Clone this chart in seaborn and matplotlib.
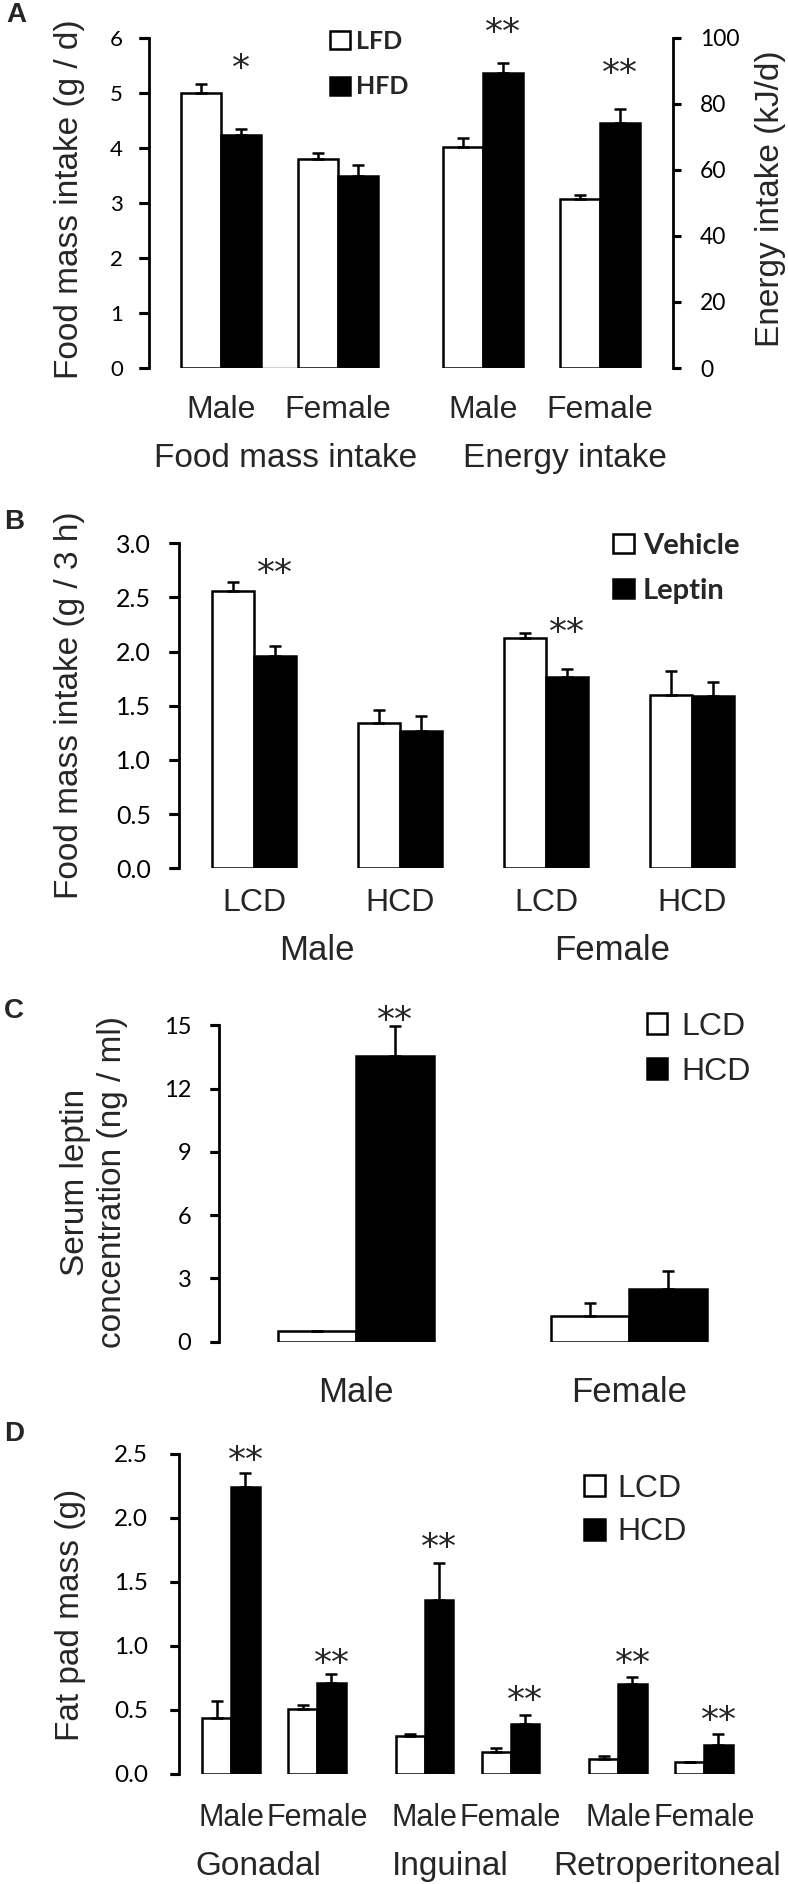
import numpy as np
import pandas as pd
import matplotlib.pyplot as plt
import seaborn as sns
from matplotlib.patches import Patch
from matplotlib.lines import Line2D

# ---- data ----
sexes = ['Male', 'Female']

# A: food mass intake (g/d) and energy intake (kJ/d), LFD vs HFD
food_lfd = [5.00, 3.80]
food_lfd_err = [0.15, 0.10]
food_hfd = [4.24, 3.49]
food_hfd_err = [0.11, 0.19]
energy_lfd = [67.0, 51.1]
energy_lfd_err = [2.7, 1.3]
energy_hfd = [89.4, 74.3]
energy_hfd_err = [2.8, 4.0]

# B: 3 h food intake after vehicle / leptin
b_diets = ['LCD', 'HCD', 'LCD', 'HCD']
vehicle = [2.56, 1.34, 2.13, 1.60]
vehicle_err = [0.08, 0.12, 0.04, 0.22]
leptin = [1.96, 1.27, 1.77, 1.59]
leptin_err = [0.09, 0.14, 0.07, 0.13]

# C: serum leptin (ng/ml)
c_lcd = [0.50, 1.24]
c_lcd_err = [0.0, 0.58]
c_hcd = [13.53, 2.50]
c_hcd_err = [1.42, 0.87]

# D: fat pad mass (g)
depots = ['Gonadal', 'Inguinal', 'Retroperitoneal']
d_sexes = ['Male', 'Female'] * 3
d_lcd = [0.44, 0.51, 0.30, 0.17, 0.12, 0.09]
d_lcd_err = [0.13, 0.03, 0.016, 0.03, 0.018, 0.0]
d_hcd = [2.24, 0.71, 1.36, 0.39, 0.70, 0.23]
d_hcd_err = [0.11, 0.07, 0.29, 0.07, 0.06, 0.085]

# significance marks: (pair index, height of the mark)
stars_a_food = [(0, 5.63, '*')]
stars_a_energy = [(0, 104.8, '**'), (1, 92.3, '**')]
stars_b = [(0, 2.82, '**'), (2, 2.27, '**')]
stars_c = [(0, 15.73, '**')]
stars_d = [(i, h, '**') for i, h in enumerate([2.53, 0.945, 1.85, 0.656, 0.945, 0.50])]

# ---- style ----
sns.set_style('ticks')
plt.rcParams['font.family'] = ['Liberation Sans', 'DejaVu Sans']
plt.rcParams.update({
    'axes.linewidth': 2,
    'axes.edgecolor': 'black',
    'ytick.direction': 'out',
    'ytick.color': 'black',
    'ytick.major.width': 2,
    'xtick.bottom': False,
    'xtick.major.size': 0,
})
NUM = 'Lato'
LW = 1.8

W, H = 788, 1884
fig = plt.figure(figsize=(W / 100, H / 100), dpi=100)


def px_axes(l, t, r, b):
    ax = fig.add_axes([l / W, 1 - b / H, (r - l) / W, (b - t) / H])
    ax.px_width = r - l
    return ax


def px_xlim(ax, l, r, c0, unit):
    ax.set_xlim((l - c0) / unit, (r - c0) / unit)


def ftext(x, y, s, **kw):
    kw.setdefault('ha', 'center')
    kw.setdefault('va', 'baseline')
    return fig.text(x / W, 1 - y / H, s, **kw)


def bar_panel(ax, pos, lo, hi, lo_err, hi_err, labels, width):
    n = len(pos)
    df = pd.DataFrame({'pos': list(pos) * 2,
                       'grp': [labels[0]] * n + [labels[1]] * n,
                       'val': list(lo) + list(hi)})
    sns.barplot(data=df, x='pos', y='val', hue='grp', hue_order=labels,
                palette=['white', 'black'], native_scale=True, width=width,
                edgecolor='black', linewidth=LW, saturation=1,
                errorbar=None, legend=False, ax=ax)
    bars = ax.patches[-2 * n:]
    xs = [b.get_x() + b.get_width() / 2 for b in bars]
    ys = [b.get_height() for b in bars]
    errs = list(lo_err) + list(hi_err)
    ax.errorbar(xs, ys, yerr=[np.zeros(len(errs)), errs], fmt='none',
                ecolor='black', elinewidth=LW, capsize=4, capthick=LW, zorder=3)
    ax.set_xlabel('')
    ax.set_ylabel('')
    return xs


def add_stars(ax, xs, n, items, size=26):
    for i, y, s in items:
        ax.annotate(s, xy=(xs[n + i], y), xytext=(0, -0.574 * size),
                    textcoords='offset points', ha='center', va='baseline',
                    fontsize=size, family='DejaVu Sans', annotation_clip=False)


def add_legend(ax, labels, x, top, size, weight, family, hl, hh, tp, ls):
    handles = [Patch(facecolor=c, edgecolor='black', linewidth=LW) for c in ['white', 'black']]
    ax.legend(handles, labels, loc='upper left', bbox_to_anchor=(x / W, 1 - top / H),
              bbox_transform=fig.transFigure, frameon=False, borderpad=0,
              borderaxespad=0, handlelength=hl, handleheight=hh,
              handletextpad=tp, labelspacing=ls,
              prop={'family': family, 'size': size, 'weight': weight})


def left_only(ax):
    for s in ['top', 'right', 'bottom']:
        ax.spines[s].set_visible(False)


def y_ticks(ax, side, length_px, pad, size):
    # outward tick marks on the spine, labels in a Calibri-like face
    ax.yaxis.set_ticks_position(side)
    ax.yaxis.set_tick_params(which='major', length=length_px * 0.72, width=2.2, pad=pad)
    frac = length_px / ax.px_width
    x0, x1 = (-frac, 0) if side == 'left' else (1, 1 + frac)
    for y in ax.get_yticks():
        fig.add_artist(Line2D([x0, x1], [y, y], transform=ax.get_yaxis_transform(),
                              color='black', lw=2.2, solid_capstyle='butt',
                              clip_on=False, zorder=5))
    for lab in ax.get_yticklabels():
        lab.set_fontfamily(NUM)
        lab.set_fontsize(size)


# ---- A ----
axA = px_axes(149, 37.7, 673, 368)
pos_food = np.arange(2.0)
pos_energy = 2.24 + np.arange(2.0)
xa = bar_panel(axA, pos_food, food_lfd, food_hfd, food_lfd_err, food_hfd_err, ['LFD', 'HFD'], 0.684)
axA.hlines(0, pos_food[0], pos_food[-1], color='#d0d0d0', lw=1.5, zorder=0)
axA2 = axA.twinx()
axA2.px_width = axA.px_width
xa2 = bar_panel(axA2, pos_energy, energy_lfd, energy_hfd, energy_lfd_err, energy_hfd_err, ['LFD', 'HFD'], 0.684)
px_xlim(axA, 149, 673, 221, 117)
axA.set_ylim(0, 6)
axA.set_yticks(range(7))
axA2.set_ylim(0, 100)
axA2.set_yticks(range(0, 101, 20))
left_only(axA)
for s in ['top', 'left', 'bottom']:
    axA2.spines[s].set_visible(False)
axA.set_xticks(np.r_[pos_food, pos_energy], labels=sexes * 2)
axA.tick_params(axis='x', length=0, pad=19.4, labelsize=23)
y_ticks(axA, 'left', 10, 11.5, 16)
y_ticks(axA2, 'right', 7.5, 14, 16.5)
add_stars(axA, xa, 2, stars_a_food)
add_stars(axA2, xa2, 2, stars_a_energy)
add_legend(axA2, ['LFD', 'HFD'], 330, 30, 18, 'bold', NUM, 0.8, 0.72, 0.25, 0.9)
ftext(286, 467, 'Food mass intake', fontsize=24)
ftext(565, 467, 'Energy intake', fontsize=24)
ftext(70, 199, 'Food mass intake (g / d)', rotation=90, va='center', fontsize=24)
ftext(770, 199, 'Energy intake (kJ/d)', rotation=90, va='center', fontsize=24)
ftext(16, 15, 'A', va='center', fontsize=20, fontweight='bold')

# ---- B ----
axB = px_axes(179, 543.3, 775, 868.3)
pos_b = np.arange(4.0)
xb = bar_panel(axB, pos_b, vehicle, leptin, vehicle_err, leptin_err, ['Vehicle', 'Leptin'], 0.58)
px_xlim(axB, 179, 775, 254, 146)
axB.set_ylim(0, 3)
axB.set_yticks(np.arange(0, 3.01, 0.5))
axB.yaxis.set_major_formatter('{x:.1f}')
left_only(axB)
axB.set_xticks(pos_b, labels=b_diets)
axB.tick_params(axis='x', length=0, pad=14, labelsize=23)
y_ticks(axB, 'left', 10, 13, 18)
add_stars(axB, xb, 4, stars_b)
add_legend(axB, ['Vehicle', 'Leptin'], 613, 533, 21, 'bold', NUM, 0.72, 0.62, 0.31, 0.65)
ftext(317, 960, 'Male', fontsize=25)
ftext(612, 960, 'Female', fontsize=25)
ftext(70, 705, 'Food mass intake (g / 3 h)', rotation=90, va='center', fontsize=24)
ftext(14, 522, 'B', va='center', fontsize=20, fontweight='bold')

# ---- C ----
axC = px_axes(218.5, 1025.3, 775, 1341.7)
pos_c = np.arange(2.0)
xc = bar_panel(axC, pos_c, c_lcd, c_hcd, c_lcd_err, c_hcd_err, ['LCD', 'HCD'], 0.575)
px_xlim(axC, 218.5, 775, 356, 273)
axC.set_ylim(0, 15)
axC.set_yticks(range(0, 16, 3))
left_only(axC)
axC.set_xticks(pos_c, labels=sexes)
axC.tick_params(axis='x', length=0, pad=25, labelsize=25)
y_ticks(axC, 'left', 9, 13, 17)
add_stars(axC, xc, 2, stars_c)
add_legend(axC, ['LCD', 'HCD'], 647, 1012, 23, 'normal', 'Liberation Sans', 0.63, 0.65, 0.45, 0.47)
ftext(94, 1182, 'Serum leptin\nconcentration (ng / ml)', rotation=90, va='center',
      multialignment='center', linespacing=1.27, fontsize=24)
ftext(14, 1011, 'C', va='center', fontsize=20, fontweight='bold')

# ---- D ----
axD = px_axes(178.5, 1454, 780, 1774)
pos_d = np.arange(6.0) + np.repeat([0, 0.25, 0.5], 2)
xd = bar_panel(axD, pos_d, d_lcd, d_hcd, d_lcd_err, d_hcd_err, ['LCD', 'HCD'], 0.674)
px_xlim(axD, 178.5, 780, 231, 86)
axD.set_ylim(0, 2.5)
axD.set_yticks(np.arange(0, 2.51, 0.5))
axD.yaxis.set_major_formatter('{x:.1f}')
left_only(axD)
axD.set_xticks(pos_d, labels=d_sexes)
axD.tick_params(axis='x', length=0, pad=20.6, labelsize=22)
y_ticks(axD, 'left', 9, 15.6, 17.5)
add_stars(axD, xd, 6, stars_d)
add_legend(axD, ['LCD', 'HCD'], 584, 1474, 23, 'normal', 'Liberation Sans', 0.66, 0.65, 0.4, 0.42)
for name, x in zip(depots, [258, 450, 667]):
    ftext(x, 1875, name, fontsize=24)
ftext(70, 1615, 'Fat pad mass (g)', rotation=90, va='center', fontsize=24)
ftext(14, 1434, 'D', va='center', fontsize=20, fontweight='bold')

fig.savefig('out.png', dpi=100)
